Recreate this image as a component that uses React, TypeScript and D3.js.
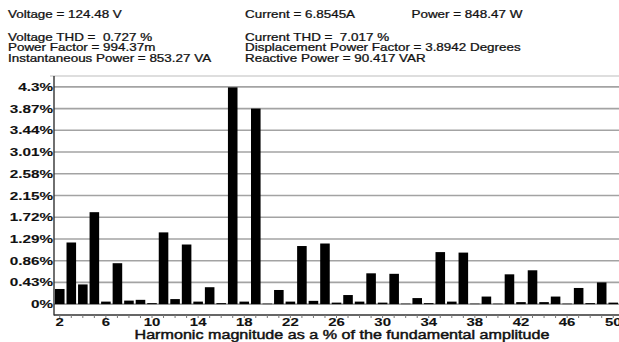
import React from 'react';
import * as d3 from 'd3';

// harmonic numbers shown on the x axis
const harmonics = [
  2, 3, 4, 5, 6, 7, 8, 9, 10, 11, 12, 13, 14, 15, 16, 17, 18, 19, 20, 21, 22, 23, 24, 25, 26,
  27, 28, 29, 30, 31, 32, 33, 34, 35, 36, 37, 38, 39, 40, 41, 42, 43, 44, 45, 46, 47, 48, 49, 50,
];

// magnitude (% of fundamental) for each harmonic
const magnitudes = [
  0.30, 1.22, 0.39, 1.82, 0.05, 0.81, 0.07, 0.085, 0.02, 1.42, 0.10, 1.18, 0.05, 0.335, 0.02,
  4.29, 0.05, 3.87, 0.01, 0.28, 0.05, 1.15, 0.065, 1.20, 0.03, 0.18, 0.05, 0.61, 0.03, 0.60,
  0.01, 0.12, 0.02, 1.03, 0.05, 1.02, 0.01, 0.15, 0.01, 0.59, 0.04, 0.67, 0.04, 0.15, 0.01,
  0.32, 0.02, 0.43, 0.03,
];

const yTicks = [0, 0.43, 0.86, 1.29, 1.72, 2.15, 2.58, 3.01, 3.44, 3.87, 4.3];
const xTickLabels = [2, 6, 10, 14, 18, 22, 26, 30, 34, 38, 42, 46, 50];

const headerLeft = [
  'Voltage = 124.48 V',
  'Voltage THD =  0.727 %',
  'Power Factor = 994.37m',
  'Instantaneous Power = 853.27 VA',
];
const headerRight = [
  'Current = 6.8545A',
  'Current THD =  7.017 %',
  'Displacement Power Factor = 3.8942 Degrees',
  'Reactive Power = 90.417 VAR',
];
const powerText = 'Power = 848.47 W';
const xTitle = 'Harmonic magnitude as a % of the fundamental amplitude';

const W = 619;
const H = 342;
const FONT = '"Liberation Sans", Arial, sans-serif';

// the picture is stretched sideways, so every text gets a horizontal scale
function T(props: { x: number; y: number; size: number; anchor?: string; children: any; weight?: any; sx?: number; heavy?: number }) {
  const sx = props.sx || 1.28;
  return (
    <text
      transform={`translate(${props.x},${props.y}) scale(${sx},1)`}
      fontSize={props.size}
      fontFamily={FONT}
      fontWeight={props.weight || 'normal'}
      textAnchor={props.anchor || 'start'}
      fill="#111"
      stroke="#111"
      strokeWidth={props.heavy || 0.25}
      style={{ whiteSpace: 'pre' }}
    >
      {props.children}
    </text>
  );
}

export default function App() {
  const left = 54, right = 619, top = 76, bottom = 315;

  const x = d3.scaleBand<number>()
    .domain(harmonics)
    .range([left, right])
    .paddingInner(0.17)
    .paddingOuter(0.085);

  const y = d3.scaleLinear().domain([-0.215, 4.515]).range([bottom, top]);

  const rowY = [17.5, 40.5, 51, 62];

  return (
    <svg width={W} height={H} style={{ position: 'absolute', left: 0, top: 0, background: '#fff' }}>
      {headerLeft.map((t, i) => (
        <T key={'l' + i} x={8} y={rowY[i]} size={10.1} sx={1.33}>{t}</T>
      ))}
      {headerRight.map((t, i) => (
        <T key={'r' + i} x={245} y={rowY[i]} size={10.1} sx={1.33}>{t}</T>
      ))}
      <T x={411.5} y={rowY[0]} size={10.1} sx={1.33}>{powerText}</T>

      {/* top border */}
      <line x1={50} x2={right} y1={top} y2={top} stroke="#bdbdbd" strokeWidth={1.2} />

      {/* grid */}
      {yTicks.map(v => (
        <line key={v} x1={left} x2={right} y1={y(v)} y2={y(v)} stroke="#a3a3a3" strokeWidth={1.6} />
      ))}

      {/* bars */}
      {harmonics.map((h, i) => (
        <rect
          key={h}
          x={x(h)}
          width={x.bandwidth()}
          y={y(magnitudes[i])}
          height={y(0) - y(magnitudes[i])}
          fill="#000"
        />
      ))}

      {/* axes */}
      <line x1={left} x2={left} y1={top} y2={bottom + 0.5} stroke="#333" strokeWidth={1.4} />
      <line x1={left} x2={right} y1={bottom} y2={bottom} stroke="#333" strokeWidth={1.4} />
      {harmonics.map(h => (
        <line
          key={'t' + h}
          x1={x(h)! + x.bandwidth() / 2}
          x2={x(h)! + x.bandwidth() / 2}
          y1={bottom}
          y2={bottom + 3}
          stroke="#777"
          strokeWidth={1}
        />
      ))}

      {yTicks.map(v => (
        <T key={'yl' + v} x={53} y={y(v) + 4} size={11.5} sx={1.33} weight="bold" heavy={0.1} anchor="end">{v + '%'}</T>
      ))}
      {xTickLabels.map(h => (
        <T key={'xl' + h} x={x(h)! + x.bandwidth() / 2} y={325.7} size={11.5} sx={1.3} weight="bold" heavy={0.1} anchor="middle">{h}</T>
      ))}
      <T x={342} y={339.3} size={12.6} heavy={0.45} anchor="middle">{xTitle}</T>
    </svg>
  );
}
